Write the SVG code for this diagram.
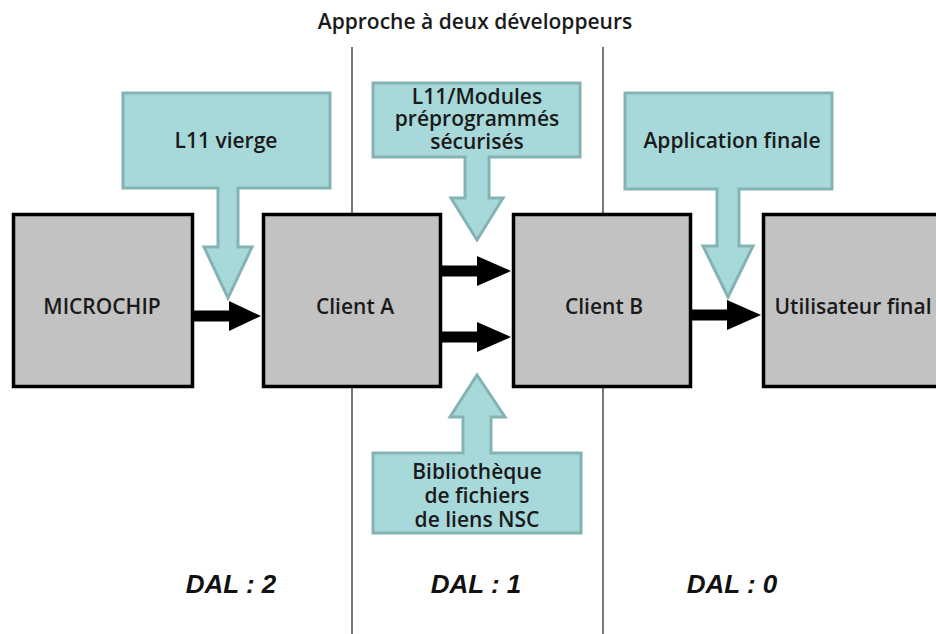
<svg xmlns="http://www.w3.org/2000/svg" width="936" height="634" viewBox="0 0 936 634">
<defs>
<style>
.t{font-family:"Open Sans","Liberation Sans",sans-serif;font-weight:600;fill:#1a1a1a;text-anchor:middle;font-size:21px}
.box{fill:#c2c2c2;stroke:#000;stroke-width:3.5}
.call{fill:#a8d9da;stroke:#84b3b3;stroke-width:3;stroke-linejoin:miter}
.arr{fill:#000}
.sep{stroke:#777;stroke-width:2}
.dal{font-family:"Liberation Sans",Arial,sans-serif;font-weight:bold;font-style:italic;font-size:26px;fill:#111;text-anchor:middle}
</style>
</defs>
<rect width="936" height="634" fill="#fff"/>
<text class="t" x="475" y="29">Approche à deux développeurs</text>
<g id="separators">
<line class="sep" x1="352" y1="47" x2="352" y2="634"/>
<line class="sep" x1="603" y1="47" x2="603" y2="634"/>
</g>
<g id="microchip">
<rect class="box" x="13.5" y="214.5" width="179" height="172"/>
<text class="t" x="102" y="314">MICROCHIP</text>
</g>
<g id="client-a">
<rect class="box" x="263.5" y="214.5" width="177" height="172"/>
<text class="t" x="355" y="314">Client A</text>
</g>
<g id="client-b">
<rect class="box" x="513.5" y="214.5" width="177" height="172"/>
<text class="t" x="604" y="314">Client B</text>
</g>
<g id="utilisateur-final">
<rect class="box" x="763.5" y="214.5" width="180" height="172"/>
<text class="t" x="853" y="314" font-size="20.5">Utilisateur final</text>
</g>
<g id="connectors">
<path class="arr" d="M194,310.5 H229 V301 L261,316 L229,331 V321.5 H194 Z"/>
<path class="arr" d="M442,265.5 H477 V256 L511,271 L477,286 V276.5 H442 Z"/>
<path class="arr" d="M442,331.5 H477 V322 L511,337 L477,352 V342.5 H442 Z"/>
<path class="arr" d="M692,309.5 H727 V300 L761,315 L727,330 V320.5 H692 Z"/>
</g>
<g id="l11-vierge">
<path class="call" d="M123,93 H330 V188 H238 V247 H252 L228,298 L204,247 H218 V188 H123 Z"/>
<text class="t" x="226" y="148">L11 vierge</text>
</g>
<g id="l11-modules">
<path class="call" d="M373,83 H580 V157 H489 V198 H503 L477,240 L451,198 H465 V157 H373 Z"/>
<text class="t" x="477" y="104">L11/Modules</text>
<text class="t" x="477" y="126">préprogrammés</text>
<text class="t" x="477" y="149">sécurisés</text>
</g>
<g id="application-finale">
<path class="call" d="M625,93 H832 V189 H739 V246 H753 L728,297 L703,246 H717 V189 H625 Z"/>
<text class="t" x="732" y="148">Application finale</text>
</g>
<g id="bibliotheque">
<path class="call" d="M373,533 H581 V453 H491 V417 H505 L477,375 L450,417 H463 V453 H373 Z"/>
<text class="t" x="477" y="479">Bibliothèque</text>
<text class="t" x="477" y="503">de fichiers</text>
<text class="t" x="477" y="527">de liens NSC</text>
</g>
<g id="dal">
<text class="dal" x="231" y="593">DAL : 2</text>
<text class="dal" x="476" y="593">DAL : 1</text>
<text class="dal" x="732" y="593">DAL : 0</text>
</g>
</svg>
